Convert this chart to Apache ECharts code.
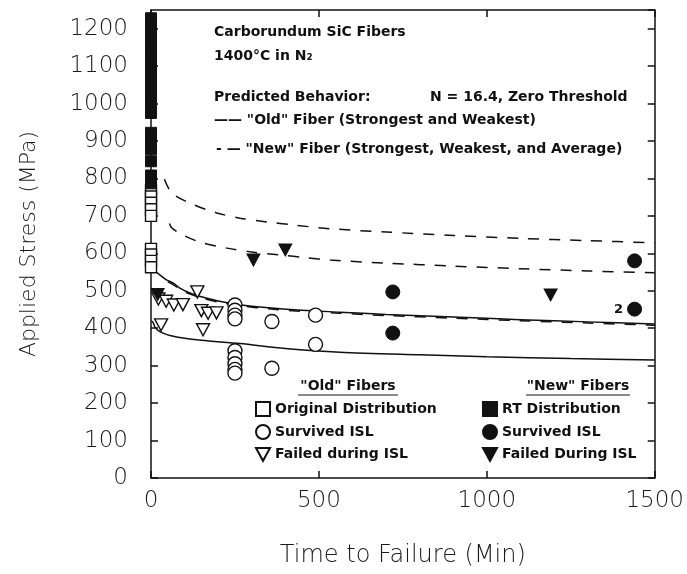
<!DOCTYPE html>
<html><head><meta charset="utf-8">
<script src="https://cdn.jsdelivr.net/npm/echarts@6/dist/echarts.min.js"></script>
<style>html,body{margin:0;padding:0;background:#fff}#c{width:687px;height:574px}</style>
</head><body><div id="c"></div>
<script>
// ---- axis ticks ----
const xTickValues = [0, 500, 1000, 1500];
const yTickValues = [0, 100, 200, 300, 400, 500, 600, 700, 800, 900, 1000, 1100, 1200];

// ---- "Old" fibers ----
const oldOriginalTime   = [0, 0, 0, 0, 0, 0, 0, 0, 0];
const oldOriginalStress = [768, 752, 735, 718, 700, 612, 597, 580, 563];

const oldSurvivedTime   = [250, 250, 250, 250, 250, 250, 250, 250, 250, 360, 360, 490, 490];
const oldSurvivedStress = [462, 448, 435, 425, 340, 322, 305, 290, 280, 418, 293, 435, 357];

const oldFailedTime   = [22, 45, 68, 95, 138, 150, 170, 195, 155, 30];
const oldFailedStress = [478, 472, 462, 463, 497, 447, 440, 441, 396, 409];

// ---- "New" fibers ----
const newRTTime   = [0,0,0,0,0,0,0,0,0,0,0,0,0,0,0,0,0,0,0,0,0,0,0,0,0];
const newRTStress = [1228, 1214, 1200, 1186, 1172, 1158, 1144, 1130, 1116, 1102, 1088, 1074, 1060, 1046, 1032, 1018, 1004, 990, 975, 922, 908, 878, 846, 808, 787];

const newSurvivedTime   = [720, 720, 1440, 1440];
const newSurvivedStress = [497, 387, 580, 451];
const newSurvivedNote   = ['', '', '', '2'];

const newFailedTime   = [20, 305, 400, 1190];
const newFailedStress = [490, 582, 609, 489];

// ---- predicted behaviour curves ----
const oldStrongTime   = [1, 10, 27, 45, 65, 90, 116, 150, 200, 265, 350, 450, 562, 700, 900, 1100, 1300, 1500];
const oldStrongStress = [565, 555, 542, 530, 521, 505, 494, 484, 473, 463, 455, 448, 443, 437, 430, 423, 417, 411];

const oldWeakTime   = [1, 6, 12, 20, 36, 60, 95, 150, 265, 400, 562, 800, 1000, 1250, 1500];
const oldWeakStress = [420, 416, 403, 395, 387, 380, 374, 368, 359, 346, 336, 329, 324, 319, 315];

const newStrongTime   = [40, 62, 116, 196, 265, 345, 423, 530, 700, 900, 1100, 1300, 1500];
const newStrongStress = [798, 761, 734, 708, 694, 684, 676, 666, 657, 648, 640, 634, 628];

const newAvgTime   = [55, 62, 95, 146, 226, 295, 384, 464, 533, 700, 900, 1100, 1300, 1500];
const newAvgStress = [680, 668, 649, 630, 614, 604, 596, 588, 582, 574, 566, 559, 553, 548];

const newWeakTime   = [50, 65, 90, 116, 150, 200, 265, 350, 450, 562, 700, 900, 1100, 1300, 1500];
const newWeakStress = [524, 517, 502, 491, 481, 470, 460, 452, 445, 440, 434, 427, 420, 414, 408];

const legendNames = {
  oldOriginal: 'Original Distribution',
  oldSurvived: 'Survived ISL',
  oldFailed: 'Failed during ISL',
  newRT: 'RT Distribution',
  newSurvived: 'Survived ISL',
  newFailed: 'Failed During ISL'
};

const zip = (a, b) => a.map((v, i) => [v, b[i]]);
const INK = '#111';
const downTri = 'path://M0,0L12,0L6,11Z';
const openStyle = {color: '#fff', borderColor: INK, borderWidth: 1.4, opacity: 1};
const fillStyle = {color: INK, borderColor: INK, borderWidth: 1, opacity: 1};
const noteFont = 'bold 14px "DejaVu Sans"';
const tick = () => ({show: true, inside: true, length: 7, lineStyle: {color: INK, width: 1.5}});
const line = () => ({show: true, onZero: false, lineStyle: {color: INK, width: 1.5}});
const axisText = {fontFamily: 'DejaVu Sans', fontWeight: 300, color: '#1a1a1a'};

const chart = echarts.init(document.getElementById('c'));

function lineSeries(name, t, s, dashed) {
  return {
    name, type: 'line', xAxisIndex: 0, yAxisIndex: 0, symbol: 'none', smooth: 0.3, z: 1,
    silent: true,
    lineStyle: {color: INK, width: 1.5, type: dashed ? [11, 10] : 'solid'},
    data: zip(t, s)
  };
}

chart.setOption({
  animation: false,
  backgroundColor: '#fff',
  grid: {left: 151, right: 31, top: 10, bottom: 96},
  xAxis: [{
    type: 'value', min: 0, max: 1500, interval: 500, position: 'bottom',
    name: 'Time to Failure (Min)', nameLocation: 'middle', nameGap: 66,
    nameTextStyle: Object.assign({fontSize: 24}, axisText),
    axisLine: line(),
    axisTick: tick(),
    axisLabel: Object.assign({fontSize: 23, margin: 12, formatter: v => xTickValues.includes(v) ? String(v) : ''}, axisText),
    splitLine: {show: false}
  }, {
    type: 'value', min: 0, max: 1500, interval: 500, position: 'top',
    axisLine: line(),
    axisTick: tick(),
    axisLabel: {show: false}, splitLine: {show: false}
  }],
  yAxis: [{
    type: 'value', min: 0, max: 1250, interval: 100, position: 'left',
    name: 'Applied Stress (MPa)', nameLocation: 'middle', nameGap: 111, nameRotate: 90,
    nameTextStyle: Object.assign({fontSize: 22}, axisText),
    axisLine: line(),
    axisTick: tick(),
    axisLabel: Object.assign({fontSize: 23, margin: 23, showMaxLabel: false,
      formatter: v => yTickValues.includes(v) ? String(v) : ''}, axisText),
    splitLine: {show: false}
  }, {
    type: 'value', min: 0, max: 1250, interval: 100, position: 'right',
    axisLine: line(),
    axisTick: tick(),
    axisLabel: {show: false}, splitLine: {show: false}
  }],
  legend: [{
    data: ['oldOriginal', 'oldSurvived', 'oldFailed'],
    orient: 'vertical', left: 255, top: 401, itemGap: 7, itemWidth: 14, itemHeight: 14,
    padding: 0, selectedMode: false, formatter: n => legendNames[n],
    textStyle: {color: INK, fontFamily: 'DejaVu Sans', fontWeight: 'bold', fontSize: 14, lineHeight: 14}
  }, {
    data: ['newRT', 'newSurvived', 'newFailed'],
    orient: 'vertical', left: 482, top: 401, itemGap: 7, itemWidth: 14, itemHeight: 14,
    padding: 0, selectedMode: false, formatter: n => legendNames[n],
    textStyle: {color: INK, fontFamily: 'DejaVu Sans', fontWeight: 'bold', fontSize: 14, lineHeight: 14}
  }],
  graphic: [
    {type: 'text', x: 214, y: 32, style: {text: 'Carborundum SiC Fibers', font: noteFont, fill: INK, textVerticalAlign: 'middle'}},
    {type: 'text', x: 214, y: 56, style: {text: '1400°C in N₂', font: noteFont, fill: INK, textVerticalAlign: 'middle'}},
    {type: 'text', x: 214, y: 97, style: {text: 'Predicted Behavior:', font: noteFont, fill: INK, textVerticalAlign: 'middle'}},
    {type: 'text', x: 430, y: 97, style: {text: 'N = 16.4, Zero Threshold', font: noteFont, fill: INK, textVerticalAlign: 'middle'}},
    {type: 'text', x: 214, y: 120, style: {text: '—— "Old" Fiber (Strongest and Weakest)', font: noteFont, fill: INK, textVerticalAlign: 'middle'}},
    {type: 'text', x: 216, y: 149, style: {text: '- — "New" Fiber (Strongest, Weakest, and Average)', font: noteFont, fill: INK, textVerticalAlign: 'middle'}},
    {type: 'text', x: 348, y: 386, style: {text: '"Old" Fibers', font: noteFont, fill: INK, textAlign: 'center', textVerticalAlign: 'middle'}},
    {type: 'line', shape: {x1: 298, y1: 395, x2: 398, y2: 395}, style: {stroke: INK, lineWidth: 1}},
    {type: 'text', x: 578, y: 386, style: {text: '"New" Fibers', font: noteFont, fill: INK, textAlign: 'center', textVerticalAlign: 'middle'}},
    {type: 'line', shape: {x1: 526, y1: 395, x2: 630, y2: 395}, style: {stroke: INK, lineWidth: 1}}
  ],
  series: [
    lineSeries('oldStrongest', oldStrongTime, oldStrongStress, false),
    lineSeries('oldWeakest', oldWeakTime, oldWeakStress, false),
    lineSeries('newStrongest', newStrongTime, newStrongStress, true),
    lineSeries('newAverage', newAvgTime, newAvgStress, true),
    lineSeries('newWeakest', newWeakTime, newWeakStress, true),
    {name: 'oldOriginal', type: 'scatter', symbol: 'rect', symbolSize: 11, itemStyle: openStyle, z: 3,
     data: zip(oldOriginalTime, oldOriginalStress)},
    {name: 'oldSurvived', type: 'scatter', symbol: 'circle', symbolSize: 14, itemStyle: openStyle, z: 3,
     data: zip(oldSurvivedTime, oldSurvivedStress)},
    {name: 'oldFailed', type: 'scatter', symbol: downTri, symbolSize: [13, 12], itemStyle: openStyle, z: 3,
     data: zip(oldFailedTime, oldFailedStress)},
    {name: 'newRT', type: 'scatter', symbol: 'rect', symbolSize: 11, itemStyle: fillStyle, z: 4,
     data: zip(newRTTime, newRTStress)},
    {name: 'newSurvived', type: 'scatter', symbol: 'circle', symbolSize: 14, itemStyle: fillStyle, z: 4,
     data: newSurvivedTime.map((t, i) => ({
       value: [t, newSurvivedStress[i]],
       label: {show: newSurvivedNote[i] !== '', formatter: newSurvivedNote[i], position: 'left', distance: 4,
               color: INK, fontFamily: 'DejaVu Sans', fontWeight: 'bold', fontSize: 13}
     }))},
    {name: 'newFailed', type: 'scatter', symbol: downTri, symbolSize: [13, 12], itemStyle: fillStyle, z: 4,
     data: zip(newFailedTime, newFailedStress)}
  ]
});
</script>
</body></html>
